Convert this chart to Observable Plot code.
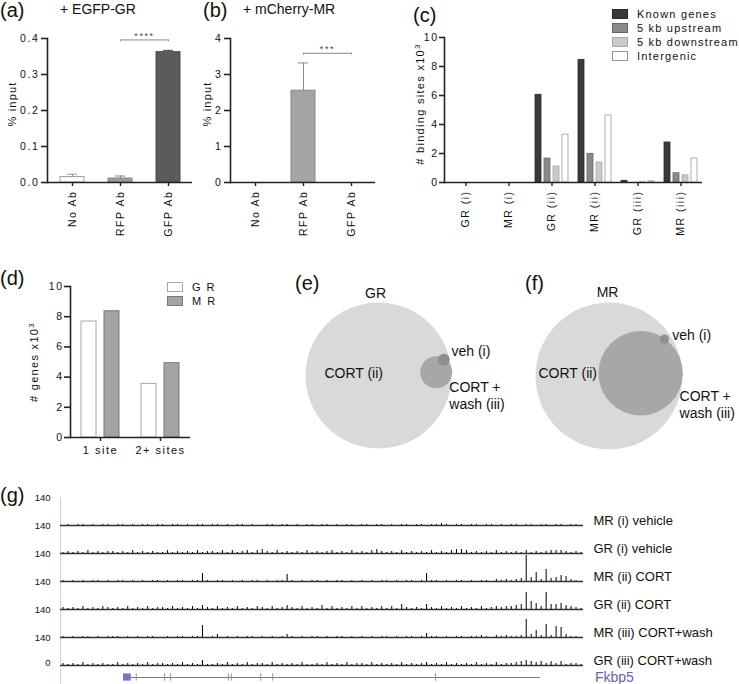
<!DOCTYPE html>
<html><head><meta charset="utf-8">
<script src="https://cdn.jsdelivr.net/npm/d3@7"></script>
<script src="https://cdn.jsdelivr.net/npm/@observablehq/plot@0.6"></script>
<style>
body{margin:0;background:#fff;}
#fig{position:relative;width:739px;height:684px;font-family:"Liberation Sans",Arial,Helvetica,sans-serif;color:#111;overflow:hidden;background:#fff}
#fig svg{position:absolute}
.sw{position:absolute;box-sizing:border-box}
</style></head><body><div id="fig"></div>
<script>
// ---------- DATA ----------
const abCats = ["No Ab", "RFP Ab", "GFP Ab"];
const aValues = [0.015, 0.011, 0.362];
const aErrors = [0.008, 0.007, 0.005];
const aTicks = [0, 0.1, 0.2, 0.3, 0.4];
const aSig = {from: "RFP Ab", to: "GFP Ab", y: 0.396, label: "****"};
const bValues = [0, 2.55, 0];
const bErrors = [0, 0.77, 0];
const bTicks = [0, 1, 2, 3, 4];
const bSig = {from: "RFP Ab", to: "GFP Ab", y: 3.59, label: "***"};

const cGroups = ["GR (i)", "MR (i)", "GR (ii)", "MR (ii)", "GR (iii)", "MR (iii)"];
const cCats = ["Known genes", "5 kb upstream", "5 kb downstream", "Intergenic"];
const cKnown = [0, 0, 6.05, 8.46, 0.12, 2.76];
const cUpstream = [0, 0, 1.65, 1.98, 0, 0.64];
const cDownstream = [0, 0, 1.1, 1.38, 0.02, 0.5];
const cIntergenic = [0, 0, 3.3, 4.62, 0.08, 1.66];
const cTicks = [0, 2, 4, 6, 8, 10];

const dSites = ["1 site", "2+ sites"];
const dReceptors = ["GR", "MR"];
const dGR = [7.68, 3.55];
const dMR = [8.36, 4.92];
const dTicks = [0, 2, 4, 6, 8, 10];

const vennSets = ["CORT (ii)", "CORT + wash (iii)", "veh (i)"];
const eCounts = [12100, 580, 80];
const eX = [0, 0.79, 0.894];
const eY = [0, 0.045, 0.215];
const fCounts = [16400, 5400, 62];
const fX = [0, 0.43, 0.755];
const fY = [0, 0.037, 0.503];

const tracks = ["MR (i) vehicle", "GR (i) vehicle", "MR (ii) CORT", "GR (ii) CORT", "MR (iii) CORT+wash", "GR (iii) CORT+wash"];
// per-bin peak heights (base-36 digit, x5 signal units)
const trackSignal = [
  "0101101011 0110101101 1011010110 1101011010 0110110101 1011010110 1101101011 0110112101 1011011010 1101101101 10110",
  "1212131212 2121312121 1312121312 2131312313 4213121213 1212312131 2134212131 2121312134 4312121312 1213121233 32121",
  "1010101101 0110101011 0101101181 0110101011 0101171010 1101011010 1010110101 1018110101 1010110212 123q492c34 65210",
  "2121312132 1213121312 2131213142 1312131213 2131242131 2141312131 3121313152 1215213121 3121312323 345h863h55 64321",
  "1010110101 1101010110 01011011c0 1301010110 1010131010 1101011010 1010110101 1014110101 1011210212 112i372d2b a3110",
  "2121312121 1312121312 2121312151 1213121312 2131212131 1213121312 2131212131 2123121312 1213121312 2345434242 41221"
];
const trackTicks = [140];
const geneName = "Fkbp5";
const geneSpan = {start: 12.65, end: 96.4};
const geneUTR = {start: 12.65, end: 14.2};
const geneExons = [15.2, 20.9, 22.1, 33.7, 34.3, 40.2, 42.6, 75.3];

// ---------- STYLES ----------
const FONT = '"Liberation Sans", Arial, Helvetica, sans-serif';
const AX = "#222";
const fig = document.getElementById("fig");
function plotStyle(spacing) { return {background: "none", overflow: "visible", fontFamily: FONT, fontSize: "11px", color: "#111", letterSpacing: spacing || "0px"}; }
function put(node, left, top) { node.style.left = left + "px"; node.style.top = top + "px"; fig.appendChild(node); return node; }
function label(html, left, top, css = "") {
  const d = document.createElement("div");
  d.innerHTML = html;
  d.style.cssText = `position:absolute;left:${left}px;top:${top}px;white-space:nowrap;line-height:1;${css}`;
  fig.appendChild(d); return d;
}
function vlabel(html, cx, cy, css = "") {
  const d = document.createElement("div");
  d.innerHTML = html;
  d.style.cssText = `position:absolute;left:${cx}px;top:${cy}px;white-space:nowrap;line-height:1;transform:translate(-50%,-50%) rotate(-90deg);${css}`;
  fig.appendChild(d); return d;
}
function swatch(left, top, w, h, fill, stroke) {
  const d = document.createElement("div");
  d.className = "sw";
  d.style.cssText += `left:${left}px;top:${top}px;width:${w}px;height:${h}px;background:${fill};border:1px solid ${stroke};`;
  fig.appendChild(d);
}

// ---------- (a) & (b) ----------
function abPanel(vals, errs, ticks, fmt, sig, fills, strokes, left) {
  const data = abCats.map((cat, i) => ({cat, v: vals[i], top: vals[i] + errs[i], fill: fills[i], stroke: strokes[i]}));
  const ymax = ticks[ticks.length - 1];
  const ends = [{x: sig.from, y: sig.y}, {x: sig.to, y: sig.y}];
  const p = Plot.plot({
    width: 201, height: 245, marginLeft: 47, marginRight: 9, marginTop: 38, marginBottom: 63,
    style: plotStyle("1.6px"),
    x: {domain: abCats, paddingInner: 0.5, paddingOuter: 0.25},
    y: {domain: [0, ymax]},
    color: {type: "identity"},
    marks: [
      Plot.barY(data, {x: "cat", y: "v", fill: "fill", stroke: "stroke", strokeWidth: 1}),
      Plot.ruleX(data, {x: "cat", y1: "v", y2: "top", stroke: "stroke", strokeWidth: 1}),
      Plot.tickY(data, {x: "cat", y: "top", stroke: "stroke", strokeWidth: 1, inset: 7}),
      Plot.ruleY([0], {stroke: AX, strokeWidth: 1.6}),
      Plot.frame({anchor: "left", stroke: AX, strokeWidth: 1.6}),
      Plot.axisY({ticks, tickFormat: fmt, tickSize: 6, tickPadding: 2, stroke: AX, strokeWidth: 1.6, fontSize: 10.5, label: null}),
      Plot.axisX({tickSize: 4, tickPadding: 4, tickRotate: -90, stroke: AX, strokeWidth: 1.4, fontSize: 10.5, label: null}),
      Plot.link([sig], {x1: "from", x2: "to", y1: "y", y2: "y", stroke: "#888", strokeWidth: 1}),
      Plot.ruleX(ends, {x: "x", y1: "y", y2: d => d.y - ymax * 0.012, stroke: "#888", strokeWidth: 1}),
      Plot.text([sig], {x: "from", y: "y", text: "label", dx: 24, dy: -4, fontSize: 9, fill: "#444"})
    ]
  });
  return put(p, left, 0);
}
abPanel(aValues, aErrors, aTicks, d3.format(".1f"), aSig, ["#ffffff", "#9c9c9c", "#5b5b5b"], ["#999999", "#858585", "#4a4a4a"], 0);
abPanel(bValues, bErrors, bTicks, d3.format("d"), bSig, ["#ffffff", "#a4a4a4", "#5b5b5b"], ["#999999", "#8a8a8a", "#4a4a4a"], 183);

label("(a)", 0, 0, "font-size:20px");
label("+ EGFP-GR", 60, 2, "font-size:14px");
label("(b)", 203, 0, "font-size:20px");
label("+ mCherry-MR", 243, 2, "font-size:14px");
vlabel("% input", 12, 104, "font-size:11px;letter-spacing:1.2px");
vlabel("% input", 207, 104, "font-size:11px;letter-spacing:1.2px");

// ---------- (c) ----------
const cSeries = [cKnown, cUpstream, cDownstream, cIntergenic];
const cFill = ["#3a3a3a", "#8a8a8a", "#c9c9c9", "#ffffff"];
const cStroke = ["#2a2a2a", "#666666", "#a8a8a8", "#999999"];
const cData = [];
cGroups.forEach((g, gi) => cCats.forEach((c, ci) => cData.push({group: g, cat: c, v: cSeries[ci][gi], fill: cFill[ci], stroke: cStroke[ci]})));
put(Plot.plot({
  width: 344, height: 260, marginLeft: 47, marginRight: 36, marginTop: 37, marginBottom: 78,
  style: plotStyle("1.5px"),
  fx: {domain: cGroups, paddingInner: 0, paddingOuter: 0, label: null},
  x: {domain: cCats, paddingInner: 0.3, paddingOuter: 0.44, axis: null},
  y: {domain: [0, 10]},
  color: {type: "identity"},
  marks: [
    Plot.barY(cData, {fx: "group", x: "cat", y: "v", fill: "fill", stroke: "stroke", strokeWidth: 0.8}),
    Plot.ruleY([0], {stroke: AX, strokeWidth: 1.6}),
    Plot.frame({anchor: "left", facetAnchor: "left", stroke: AX, strokeWidth: 1.6}),
    Plot.axisY({ticks: cTicks, tickSize: 5, tickPadding: 1, stroke: AX, strokeWidth: 1.6, fontSize: 10.5, label: null}),
    Plot.axisFx({anchor: "bottom", tickSize: 4, tickPadding: 4, tickRotate: -90, stroke: AX, strokeWidth: 1.4, fontSize: 10.5, label: null})
  ]
}), 395, 0);
label("(c)", 413, 5, "font-size:20px");
vlabel("# binding sites x10<sup style='font-size:8px'>3</sup>", 420, 104, "font-size:11px;letter-spacing:1.3px");
cCats.forEach((c, i) => {
  swatch(612, 9 + i * 14, 16, 10, cFill[i], cStroke[i]);
  label(c, 637, 9 + i * 14, "font-size:11px;letter-spacing:1.2px");
});

// ---------- (d) ----------
const dSeries = [dGR, dMR];
const dFill = ["#ffffff", "#a3a3a3"];
const dStroke = ["#a8a8a8", "#777777"];
const dData = [];
dSites.forEach((s, si) => dReceptors.forEach((r, ri) => dData.push({site: s, rec: r, v: dSeries[ri][si], fill: dFill[ri], stroke: dStroke[ri]})));
put(Plot.plot({
  width: 178, height: 212, marginLeft: 47, marginRight: 10, marginTop: 36, marginBottom: 25,
  style: plotStyle("1.5px"),
  fx: {domain: dSites, paddingInner: 0, paddingOuter: 0, label: null},
  x: {domain: dReceptors, paddingInner: 1 / 3, paddingOuter: 0.427, axis: null},
  y: {domain: [0, 10]},
  color: {type: "identity"},
  marks: [
    Plot.barY(dData, {fx: "site", x: "rec", y: "v", fill: "fill", stroke: "stroke", strokeWidth: 1}),
    Plot.ruleY([0], {stroke: AX, strokeWidth: 1.6}),
    Plot.frame({anchor: "left", facetAnchor: "left", stroke: AX, strokeWidth: 1.6}),
    Plot.axisY({ticks: dTicks, tickSize: 6, tickPadding: 1, stroke: AX, strokeWidth: 1.6, fontSize: 10.5, label: null}),
    Plot.axisFx({anchor: "bottom", tickSize: 4, tickPadding: 5, stroke: AX, strokeWidth: 1.4, fontSize: 11, label: null})
  ]
}), 22, 250);
label("(d)", 0, 268, "font-size:20px");
vlabel("# genes x10<sup style='font-size:8px'>3</sup>", 34, 362, "font-size:11px;letter-spacing:1.3px");
dReceptors.forEach((r, i) => {
  swatch(167, 282 + i * 14, 16, 10, dFill[i], dStroke[i]);
  label(r.split("").join(" "), 192, 282 + i * 14, "font-size:11px;letter-spacing:1.5px");
});

// ---------- (e) & (f) ----------
const vennFill = ["#d9d9d9", "#a7a7a7", "#8e8e8e"];
function venn(counts, xs, ys, R, labelsMid, labelsStart, left) {
  const data = vennSets.map((s, i) => ({set: s, n: counts[i], x: xs[i], y: ys[i], fill: vennFill[i]}));
  const p = Plot.plot({
    width: 25 + 2 * R + 28, height: 27 + 2 * R + 12, marginLeft: 25, marginRight: 28, marginTop: 27, marginBottom: 12,
    style: plotStyle(),
    x: {domain: [-1, 1], axis: null}, y: {domain: [-1, 1], axis: null},
    r: {type: "sqrt", domain: [0, counts[0]], range: [0, R]},
    color: {type: "identity"},
    marks: [
      Plot.dot(data, {x: "x", y: "y", r: "n", fill: "fill"}),
      Plot.text(labelsMid, {x: "x", y: "y", text: "t", fontSize: 14, textAnchor: "middle", fill: "#111"}),
      Plot.text(labelsStart, {x: "x", y: "y", text: "t", fontSize: 14, textAnchor: "start", lineHeight: 1.2, fill: "#111"})
    ]
  });
  return put(p, left, 275);
}
venn(eCounts, eX, eY, 73,
  [{t: "GR", x: -0.04, y: 1.12}, {t: "CORT (ii)", x: -0.34, y: 0.03}],
  [{t: "veh (i)", x: 1.0, y: 0.34}, {t: "CORT +\nwash (iii)", x: 0.97, y: -0.267}], 280);
venn(fCounts, fX, fY, 73.5,
  [{t: "MR", x: -0.02, y: 1.13}],
  [{t: "CORT (ii)", x: -0.96, y: 0.04}, {t: "veh (i)", x: 0.86, y: 0.56}, {t: "CORT +\nwash (iii)", x: 0.96, y: -0.38}], 510);
label("(e)", 295, 273, "font-size:20px");
label("(f)", 525, 273, "font-size:20px");

// ---------- (g) ----------
const sigData = [];
tracks.forEach((t, ti) => Array.from(trackSignal[ti].replace(/ /g, "")).forEach((c, i) => sigData.push({track: t, pos: i + 0.5, v: parseInt(c, 36) * 5})));
const nBins = trackSignal[0].replace(/ /g, "").length;
put(Plot.plot({
  width: 739, height: 200, marginLeft: 60, marginRight: 156, marginTop: 12, marginBottom: 20,
  style: plotStyle(),
  fy: {domain: tracks, paddingInner: 0, paddingOuter: 0, label: null},
  x: {domain: [0, nBins], axis: null},
  y: {domain: [0, 140]},
  marks: [
    Plot.ruleX([0], {stroke: "#f0c8c8", strokeWidth: 1}),
    Plot.ruleY([0], {stroke: "#333", strokeWidth: 1.3}),
    Plot.ruleX(sigData, {fy: "track", x: "pos", y1: 0, y2: "v", stroke: "#000", strokeWidth: 1}),
    Plot.axisY({ticks: trackTicks, tickSize: 0, tickPadding: 10, fontSize: 9.5, label: null}),
    Plot.text([tracks[tracks.length - 1]], {fy: d => d, frameAnchor: "bottom-left", text: () => "0", dx: -10, textAnchor: "end", fontSize: 9.5}),
    Plot.axisFy({anchor: "right", tickSize: 0, tickPadding: 10, dy: 9, fontSize: 13, textAnchor: "start", label: null})
  ]
}), 0, 485);
const geneColor = "#7474c8";
put(Plot.plot({
  width: 739, height: 16, marginLeft: 60, marginRight: 156, marginTop: 0, marginBottom: 0,
  style: plotStyle(),
  x: {domain: [0, nBins], axis: null},
  y: {domain: [-1, 1], axis: null},
  marks: [
    Plot.ruleX([0], {stroke: "#f0c8c8", strokeWidth: 1}),
    Plot.ruleY([geneSpan], {x1: "start", x2: "end", y: () => 0, stroke: geneColor, strokeWidth: 1}),
    Plot.rect([geneUTR], {x1: "start", x2: "end", y1: () => -0.45, y2: () => 0.45, fill: geneColor}),
    Plot.ruleX(geneExons, {x: d => d, y1: () => -0.45, y2: () => 0.45, stroke: geneColor, strokeWidth: 1, strokeOpacity: 0.8})
  ]
}), 0, 669);
label("(g)", 0, 485, "font-size:20px");
label(geneName, 595, 670, "font-size:14px;color:#6b60b8");
</script></body></html>
